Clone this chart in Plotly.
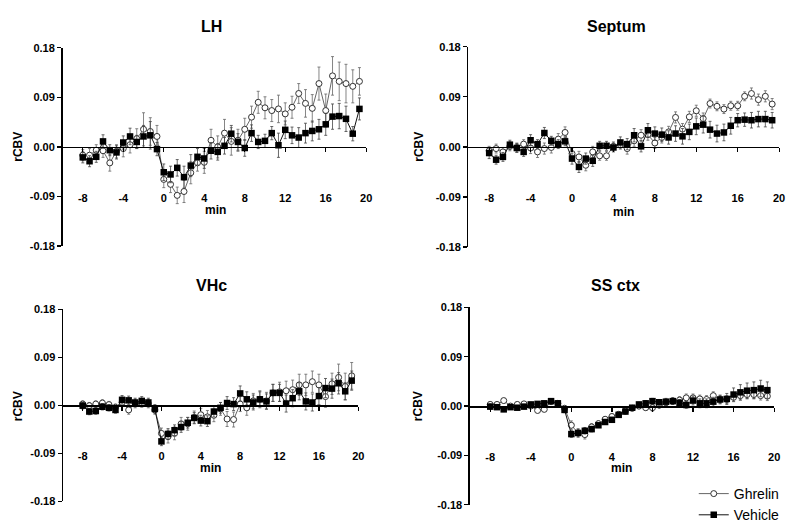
import plotly.graph_objects as go

# ---- data ----
time_min = [-8.0, -7.33, -6.67, -6.0, -5.33, -4.67, -4.0, -3.33, -2.67, -2.0, -1.33, -0.67,
            0.0, 0.67, 1.33, 2.0, 2.67, 3.33, 4.0, 4.67, 5.33, 6.0, 6.67, 7.33,
            8.0, 8.67, 9.33, 10.0, 10.67, 11.33, 12.0, 12.67, 13.33, 14.0, 14.67, 15.33,
            16.0, 16.67, 17.33, 18.0, 18.67, 19.33]

lh_ghrelin = [-0.015, -0.015, -0.006, -0.007, -0.029, -0.008, -0.003, 0.004, 0.015, 0.032, 0.028, 0.019,
              -0.059, -0.068, -0.088, -0.081, -0.047, -0.029, -0.028, 0.012, 0.000, 0.025, 0.010, 0.012,
              0.032, 0.054, 0.081, 0.071, 0.066, 0.069, 0.060, 0.072, 0.097, 0.079, 0.070, 0.115,
              0.066, 0.129, 0.119, 0.115, 0.110, 0.119]
lh_ghrelin_err = [0.010, 0.012, 0.010, 0.012, 0.015, 0.012, 0.015, 0.015, 0.018, 0.030, 0.025, 0.020,
                  0.015, 0.015, 0.015, 0.020, 0.020, 0.015, 0.020, 0.020, 0.020, 0.025, 0.025, 0.020,
                  0.020, 0.020, 0.020, 0.020, 0.020, 0.025, 0.020, 0.020, 0.018, 0.025, 0.025, 0.030,
                  0.030, 0.035, 0.035, 0.035, 0.030, 0.025]
lh_vehicle = [-0.019, -0.026, -0.018, 0.010, -0.006, -0.010, 0.008, 0.019, 0.009, 0.019, 0.021, -0.004,
              -0.046, -0.050, -0.038, -0.055, -0.034, -0.018, -0.021, -0.007, -0.009, 0.002, 0.024, 0.009,
              -0.002, 0.025, 0.009, 0.011, 0.025, 0.003, 0.031, 0.021, 0.017, 0.025, 0.029, 0.032,
              0.041, 0.055, 0.056, 0.051, 0.024, 0.069]
lh_vehicle_err = [0.010, 0.010, 0.010, 0.012, 0.010, 0.012, 0.012, 0.015, 0.012, 0.020, 0.025, 0.012,
                  0.015, 0.015, 0.015, 0.020, 0.020, 0.015, 0.018, 0.015, 0.015, 0.015, 0.015, 0.015,
                  0.015, 0.015, 0.012, 0.012, 0.012, 0.022, 0.016, 0.015, 0.018, 0.018, 0.018, 0.018,
                  0.020, 0.023, 0.023, 0.023, 0.013, 0.020]

sep_ghrelin = [-0.007, -0.003, -0.009, 0.001, -0.001, 0.005, -0.002, -0.009, -0.003, -0.001, 0.014, 0.026,
               -0.012, -0.018, -0.033, -0.009, -0.016, -0.016, 0.001, 0.004, -0.003, 0.011, 0.021, 0.022,
               0.007, 0.017, 0.027, 0.053, 0.032, 0.054, 0.065, 0.051, 0.078, 0.073, 0.068, 0.074,
               0.074, 0.091, 0.096, 0.085, 0.091, 0.077]
sep_ghrelin_err = [0.008, 0.008, 0.008, 0.008, 0.008, 0.008, 0.010, 0.010, 0.010, 0.010, 0.010, 0.010,
                   0.010, 0.010, 0.010, 0.010, 0.008, 0.008, 0.008, 0.008, 0.010, 0.010, 0.010, 0.010,
                   0.010, 0.010, 0.010, 0.010, 0.010, 0.010, 0.010, 0.010, 0.008, 0.008, 0.008, 0.008,
                   0.008, 0.008, 0.010, 0.010, 0.010, 0.010]
sep_vehicle = [-0.011, -0.023, -0.018, 0.004, -0.002, -0.009, 0.012, 0.005, 0.025, 0.011, 0.005, 0.010,
               -0.021, -0.036, -0.021, -0.025, 0.002, 0.002, -0.001, 0.008, 0.005, 0.021, 0.001, 0.030,
               0.024, 0.022, 0.017, 0.024, 0.019, 0.027, 0.037, 0.040, 0.031, 0.024, 0.026, 0.038,
               0.048, 0.049, 0.048, 0.050, 0.050, 0.048]
sep_vehicle_err = [0.010, 0.008, 0.008, 0.008, 0.008, 0.008, 0.010, 0.008, 0.010, 0.008, 0.008, 0.008,
                   0.010, 0.010, 0.010, 0.010, 0.008, 0.008, 0.008, 0.010, 0.010, 0.012, 0.010, 0.012,
                   0.012, 0.012, 0.012, 0.014, 0.014, 0.014, 0.015, 0.015, 0.015, 0.015, 0.015, 0.015,
                   0.012, 0.012, 0.014, 0.014, 0.014, 0.014]

vhc_ghrelin = [0.002, -0.001, 0.002, 0.004, 0.001, -0.004, 0.005, -0.009, 0.003, 0.004, 0.003, -0.009,
               -0.053, -0.059, -0.053, -0.035, -0.035, -0.023, -0.018, -0.022, -0.019, -0.007, -0.026, -0.027,
               0.002, -0.005, 0.008, 0.011, 0.008, 0.023, 0.025, 0.027, 0.029, 0.038, 0.038, 0.044,
               0.038, 0.016, 0.040, 0.052, 0.035, 0.055]
vhc_ghrelin_err = [0.006, 0.006, 0.006, 0.006, 0.006, 0.006, 0.006, 0.008, 0.008, 0.008, 0.008, 0.008,
                   0.010, 0.012, 0.012, 0.012, 0.012, 0.012, 0.012, 0.012, 0.012, 0.012, 0.014, 0.014,
                   0.014, 0.014, 0.014, 0.016, 0.016, 0.016, 0.018, 0.018, 0.018, 0.020, 0.020, 0.020,
                   0.020, 0.020, 0.020, 0.025, 0.025, 0.025]
vhc_vehicle = [-0.001, -0.012, -0.011, -0.003, -0.005, -0.009, 0.010, 0.009, 0.005, 0.008, 0.005, -0.007,
               -0.068, -0.054, -0.047, -0.041, -0.033, -0.024, -0.029, -0.030, -0.012, -0.005, 0.004, 0.002,
               0.022, 0.011, 0.005, 0.011, 0.007, 0.023, 0.023, 0.003, 0.013, 0.026, 0.007, 0.005,
               0.017, 0.032, 0.031, 0.041, 0.026, 0.046]
vhc_vehicle_err = [0.006, 0.006, 0.006, 0.006, 0.006, 0.006, 0.008, 0.008, 0.008, 0.008, 0.008, 0.008,
                   0.008, 0.010, 0.010, 0.010, 0.010, 0.010, 0.010, 0.010, 0.010, 0.010, 0.012, 0.012,
                   0.014, 0.014, 0.014, 0.014, 0.014, 0.016, 0.016, 0.016, 0.016, 0.016, 0.016, 0.016,
                   0.016, 0.018, 0.018, 0.020, 0.016, 0.018]

ss_ghrelin = [0.003, 0.003, 0.010, 0.000, 0.003, 0.004, 0.000, -0.008, -0.006, 0.008, 0.005, -0.004,
              -0.035, -0.049, -0.052, -0.038, -0.032, -0.024, -0.019, -0.015, -0.009, -0.004, 0.000, -0.003,
              -0.003, 0.002, 0.006, 0.009, 0.011, 0.015, 0.015, 0.013, 0.012, 0.019, 0.012, 0.012,
              0.016, 0.019, 0.021, 0.021, 0.019, 0.018]
ss_ghrelin_err = [0.005, 0.004, 0.004, 0.004, 0.004, 0.004, 0.004, 0.004, 0.004, 0.004, 0.004, 0.005,
                  0.008, 0.008, 0.008, 0.006, 0.005, 0.005, 0.005, 0.005, 0.005, 0.005, 0.005, 0.005,
                  0.006, 0.006, 0.006, 0.006, 0.006, 0.007, 0.007, 0.007, 0.007, 0.007, 0.007, 0.007,
                  0.008, 0.008, 0.008, 0.008, 0.008, 0.008]
ss_vehicle = [-0.001, -0.002, -0.006, -0.002, -0.003, -0.001, 0.003, 0.004, 0.005, 0.009, 0.005, -0.007,
              -0.051, -0.049, -0.045, -0.042, -0.035, -0.029, -0.025, -0.016, -0.010, -0.003, 0.003, 0.005,
              0.009, 0.007, 0.008, 0.009, 0.006, 0.002, 0.010, 0.005, 0.005, 0.008, 0.012, 0.013,
              0.021, 0.025, 0.028, 0.029, 0.032, 0.029]
ss_vehicle_err = [0.005, 0.004, 0.004, 0.004, 0.004, 0.004, 0.004, 0.004, 0.004, 0.004, 0.004, 0.005,
                  0.006, 0.006, 0.006, 0.005, 0.004, 0.004, 0.004, 0.004, 0.004, 0.004, 0.004, 0.005,
                  0.005, 0.005, 0.006, 0.006, 0.006, 0.006, 0.008, 0.008, 0.008, 0.008, 0.008, 0.010,
                  0.012, 0.014, 0.014, 0.015, 0.015, 0.015]

panel_titles = ["LH", "Septum", "VHc", "SS ctx"]
x_ticks = [-8, -4, 0, 4, 8, 12, 16, 20]
y_ticks = [-0.18, -0.09, 0.0, 0.09, 0.18]
y_ticktext = ["-0.18", "-0.09", "0.00", "0.09", "0.18"]

panels = [
    (lh_ghrelin, lh_ghrelin_err, lh_vehicle, lh_vehicle_err),
    (sep_ghrelin, sep_ghrelin_err, sep_vehicle, sep_vehicle_err),
    (vhc_ghrelin, vhc_ghrelin_err, vhc_vehicle, vhc_vehicle_err),
    (ss_ghrelin, ss_ghrelin_err, ss_vehicle, ss_vehicle_err),
]

# ---- layout geometry (paper fractions) ----
W, H = 800, 531
x_domains = [[63 / W, 369 / W], [472 / W, 785 / W], [63.5 / W, 361 / W], [473.5 / W, 780 / W]]
y_domains = [[1 - 247 / H, 1 - 43 / H], [1 - 248 / H, 1 - 42 / H],
             [1 - 509.5 / H, 1 - 312 / H], [1 - 513.4 / H, 1 - 310 / H]]
title_pos = [(213, 21), (621, 21), (213, 288), (620, 288)]
rcbv_pos = [(18, 145), (422, 145), (18, 412), (422, 412)]
min_pos = [(216.7, 210), (628, 211.7), (211.7, 475), (626, 475.7)]

FONT = "Liberation Sans, Arial, sans-serif"

fig = go.Figure()

for k, (g, ge, v, ve) in enumerate(panels):
    ax = "" if k == 0 else str(k + 1)
    fig.add_trace(go.Scatter(
        x=time_min, y=g, mode="lines+markers", name="Ghrelin",
        xaxis="x" + ax, yaxis="y" + ax, showlegend=(k == 0), legendgroup="g",
        line=dict(color="#555555", width=0.9),
        marker=dict(symbol="circle", size=6, color="white", line=dict(color="#333333", width=1)),
        error_y=dict(type="data", array=ge, visible=True, color="#666666", thickness=0.8, width=1.5),
        cliponaxis=False,
    ))
    fig.add_trace(go.Scatter(
        x=time_min, y=v, mode="lines+markers", name="Vehicle",
        xaxis="x" + ax, yaxis="y" + ax, showlegend=(k == 0), legendgroup="v",
        line=dict(color="#111111", width=1),
        marker=dict(symbol="square", size=6.5, color="black", line=dict(color="black", width=0)),
        error_y=dict(type="data", array=ve, visible=True, color="#444444", thickness=0.8, width=1.5),
        cliponaxis=False,
    ))

    yd = y_domains[k]
    zero_pos = yd[0] + (yd[1] - yd[0]) * 0.5
    fig.layout["xaxis" + ax] = dict(
        domain=x_domains[k], range=[-10, 20], anchor="free", position=zero_pos,
        tickvals=x_ticks, ticktext=[str(t) for t in x_ticks],
        showline=True, linecolor="black", linewidth=1.5,
        ticks="outside", ticklen=4, tickwidth=1.2, tickcolor="black",
        tickfont=dict(family=FONT, size=11, color="black", weight="bold"),
        ticklabelstandoff=36,
        showgrid=False, zeroline=False, fixedrange=True,
    )
    fig.layout["yaxis" + ax] = dict(
        domain=yd, range=[-0.18, 0.18], anchor="x" + ax,
        tickvals=y_ticks, ticktext=y_ticktext,
        showline=True, linecolor="black", linewidth=1.5,
        ticks="outside", ticklen=4, tickwidth=1.2, tickcolor="black",
        tickfont=dict(family=FONT, size=11, color="black", weight="bold"),
        showgrid=False, zeroline=False, fixedrange=True,
    )

annotations = []
for k in range(4):
    tx, ty = title_pos[k]
    annotations.append(dict(text="<b>%s</b>" % panel_titles[k], x=tx / W, y=1 - ty / H,
                            xref="paper", yref="paper", showarrow=False,
                            font=dict(family=FONT, size=16, color="black"),
                            xanchor="center", yanchor="middle"))
    rx, ry = rcbv_pos[k]
    annotations.append(dict(text="<b>rCBV</b>", x=rx / W, y=1 - ry / H,
                            xref="paper", yref="paper", showarrow=False, textangle=-90,
                            font=dict(family=FONT, size=12, color="black"),
                            xanchor="center", yanchor="middle"))
    mx, my = min_pos[k]
    annotations.append(dict(text="<b>min</b>", x=mx / W, y=1 - my / H,
                            xref="paper", yref="paper", showarrow=False,
                            font=dict(family=FONT, size=12, color="black"),
                            xanchor="center", yanchor="middle"))

fig.update_layout(
    width=W, height=H,
    margin=dict(l=0, r=0, t=0, b=0),
    paper_bgcolor="white", plot_bgcolor="white",
    annotations=annotations,
    showlegend=True,
    legend=dict(x=699 / W, y=1 - 486 / H, xanchor="left", yanchor="top",
                font=dict(family=FONT, size=14, color="black"),
                bgcolor="rgba(0,0,0,0)", tracegroupgap=0),
)

fig.write_html("out.html",
               config={"displayModeBar": False, "staticPlot": True},
               post_script="document.body.style.margin='0';document.body.style.overflow='hidden';")
